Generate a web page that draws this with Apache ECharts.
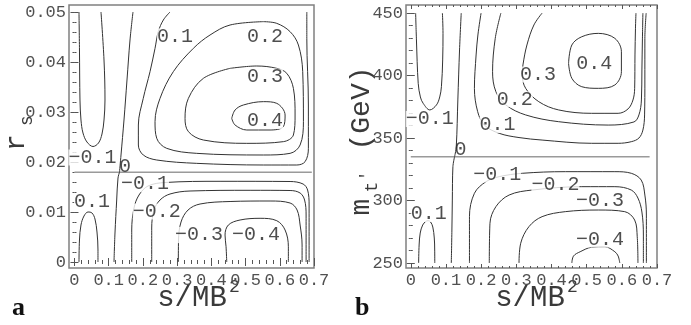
<!DOCTYPE html>
<html><head><meta charset="utf-8">
<script src="https://cdn.jsdelivr.net/npm/echarts@6/dist/echarts.min.js"></script>
<style>html,body{margin:0;padding:0;background:#fff}#c{width:691px;height:325px}</style>
</head><body><div id="c"></div>
<script>
// ---------- tick labels ----------
const xTicks = [0, 0.1, 0.2, 0.3, 0.4, 0.5, 0.6, 0.7];
const aYTicks = [0, 0.01, 0.02, 0.03, 0.04, 0.05];
const bYTicks = [250, 300, 350, 400, 450];

// ---------- panel a contours (x = s/MB^2, y = r_s) ----------
const aZeroH = [[0, 0.01796], [0.6936, 0.01796]];
const aZeroV1 = [[0.171,0.05],[0.1623,0.0444],[0.1535,0.0364],[0.1447,0.0284],[0.136,0.0214],[0.1316,0.01796]];
const aZeroV2 = [[0.1316,0.01796],[0.1272,0.0168],[0.1234,0.0124],[0.1184,0.0058],[0.1155,0]];
const aU = [[0.0132,0.05],[0.0146,0.0424],[0.0161,0.0324],[0.019,0.0284],[0.0249,0.0258],[0.0365,0.024],[0.0541,0.0231],[0.0702,0.0238],[0.0804,0.0256],[0.0863,0.0284],[0.0892,0.0324],[0.0863,0.0404],[0.0775,0.05]];
const aP01 = [[0.2792,0.05],[0.2597,0.0484],[0.245,0.04607],[0.2354,0.04273],[0.2208,0.03807],[0.201,0.03273],[0.1867,0.0274],[0.1867,0.0234],[0.201,0.0214],[0.2404,0.0204],[0.3573,0.01973],[0.552,0.0194],[0.6497,0.0194],[0.674,0.02007],[0.6836,0.02273],[0.6836,0.0314],[0.679,0.04473],[0.679,0.05]];
const aP02 = [[0.552,0.04807],[0.4547,0.0474],[0.3962,0.0454],[0.3474,0.04273],[0.2889,0.03807],[0.25,0.03273],[0.2354,0.02807],[0.2404,0.02473],[0.2696,0.02273],[0.3573,0.02173],[0.552,0.0214],[0.6301,0.02173],[0.6594,0.0234],[0.6691,0.02807],[0.667,0.03807],[0.6544,0.0434],[0.6301,0.04607],[0.5912,0.04773],[0.552,0.04807]];
const aP03 = [[0.4547,0.03873],[0.3766,0.03673],[0.3329,0.03273],[0.3231,0.02873],[0.3329,0.02607],[0.3766,0.0244],[0.5035,0.02373],[0.6105,0.02407],[0.6398,0.0254],[0.6447,0.0294],[0.6398,0.03473],[0.6205,0.03773],[0.5912,0.03873],[0.5327,0.0392],[0.4547,0.03873]];
const aP04 = [[0.4596,0.02873],[0.4693,0.0304],[0.4936,0.0314],[0.552,0.03207],[0.5912,0.03173],[0.6155,0.0294],[0.6105,0.02707],[0.5716,0.0264],[0.5035,0.0264],[0.4693,0.0274],[0.4596,0.02873]];
const aHump = [[0.0132,0],[0.0146,0.0044],[0.019,0.0074],[0.0278,0.0092],[0.0395,0.01],[0.0512,0.0098],[0.0599,0.0086],[0.0658,0.006],[0.0687,0.0024],[0.0687,0]];
const aN01 = [[0.1673,0],[0.1673,0.0064],[0.174,0.0108],[0.1886,0.0134],[0.2149,0.0152],[0.2646,0.0159],[0.4254,0.01614],[0.6301,0.0161],[0.6681,0.0156],[0.6813,0.0144],[0.6857,0.0114],[0.6857,0]];
const aN02 = [[0.2257,0],[0.2257,0.0068],[0.2325,0.0104],[0.25,0.0124],[0.2792,0.0136],[0.3377,0.0142],[0.5132,0.01434],[0.6301,0.0143],[0.6594,0.0138],[0.6725,0.0124],[0.6769,0.0094],[0.6769,0]];
const aN03 = [[0.3035,0],[0.3041,0.0044],[0.3114,0.008],[0.3319,0.0104],[0.367,0.0116],[0.4547,0.0121],[0.5716,0.0122],[0.6301,0.0118],[0.6506,0.0104],[0.6594,0.0074],[0.6652,0.0034],[0.6652,0]];
const aN04 = [[0.445,0],[0.443,0.00306],[0.44,0.0054],[0.4497,0.0074],[0.4839,0.0084],[0.5424,0.00874],[0.5912,0.00826],[0.6155,0.0064],[0.6251,0.00306],[0.6251,0]];
const aLabText = ['0.1','0.2','0.3','0.4','\u22120.1','0','\u22120.1','0.1','\u22120.2','\u22120.3','\u22120.4'];
const aLabX = [0.294,0.557,0.557,0.557,0.0526,0.1477,0.2061,0.0512,0.2404,0.364,0.5307];
const aLabY = [0.0451,0.0451,0.0371,0.0282,0.0209,0.019,0.0156,0.0121,0.0101,0.0054,0.0054];

// ---------- panel b contours (x = s/MB^2, y = m_t' GeV) ----------
const bZeroH = [[0, 335.1], [0.679, 335.1]];
const bZeroV1 = [[0.1434,450],[0.1386,420.5],[0.1338,380.5],[0.1293,343.1],[0.1245,335.1]];
const bZeroV2 = [[0.1245,335.1],[0.1198,327.1],[0.1181,300.4],[0.1169,276.4],[0.1152,250]];
const bU = [[0.0138,450],[0.0161,428.5],[0.0211,393.8],[0.0273,382.9],[0.0352,377.8],[0.0541,372.5],[0.073,376.5],[0.0823,382.9],[0.0871,391.1],[0.0907,412.5],[0.0916,433.8],[0.0899,450]];
const bP01 = [[0.1998,450],[0.1908,432.5],[0.1857,416.5],[0.1809,389.8],[0.1902,371.1],[0.2091,360.4],[0.2513,353.8],[0.3077,350.4],[0.3733,348.4],[0.5142,345.8],[0.5895,345.8],[0.6269,347.1],[0.6486,350.0],[0.6599,356.4],[0.6647,368.5],[0.6655,396.5],[0.6655,429.8],[0.6692,450]];
const bP02 = [[0.2561,450],[0.2401,429.8],[0.2325,403.1],[0.242,387.1],[0.2702,376.5],[0.3266,368.5],[0.4204,363.1],[0.5613,360.4],[0.6345,362.9],[0.6486,368.5],[0.6557,380.5],[0.6571,404.5],[0.6585,428.5],[0.6599,450]];
const bP03 = [[0.3733,450],[0.35,440.5],[0.3302,424.5],[0.3189,408.5],[0.317,400.5],[0.3266,389.8],[0.364,379.1],[0.4204,372.5],[0.5142,369.8],[0.5895,369.8],[0.6176,373.3],[0.6317,380.5],[0.6365,389.8],[0.6374,416.5],[0.6388,437.9],[0.6402,450]];
const bP04 = [[0.4486,409.8],[0.4579,424.5],[0.4861,431.1],[0.5331,433.8],[0.5802,429.8],[0.5988,419.1],[0.5988,403.1],[0.5802,392.5],[0.5331,389.8],[0.4861,391.1],[0.4579,397.8],[0.4486,409.8]];
const bHump = [[0.0223,250],[0.0237,264.4],[0.0268,274.0],[0.0338,280.4],[0.0423,283.2],[0.0493,283.9],[0.0564,282.8],[0.0626,278.8],[0.0668,270.0],[0.068,260.4],[0.0682,250]];
const bN01 = [[0.1668,250],[0.1668,287.1],[0.1809,305.8],[0.2139,315.1],[0.2513,319.1],[0.317,321.8],[0.4393,323.1],[0.5802,323.1],[0.6269,321.8],[0.6551,316.4],[0.6655,304.4],[0.6698,288.4],[0.6698,250]];
const bN02 = [[0.2232,250],[0.2251,281.8],[0.242,295.1],[0.2795,304.4],[0.3452,308.4],[0.4861,311.1],[0.5802,311.1],[0.6269,308.4],[0.6458,302.0],[0.6571,290.8],[0.6613,272.4],[0.6613,250]];
const bN03 = [[0.3077,250],[0.3125,265.8],[0.3359,279.1],[0.3733,287.1],[0.4393,291.1],[0.5331,292.4],[0.6083,291.1],[0.6365,284.4],[0.6438,271.0],[0.6458,250]];
const bN04 = [[0.4579,250],[0.4627,255.6],[0.4815,259.0],[0.5142,262.6],[0.552,263.0],[0.5802,259.0],[0.5895,255.6],[0.5942,250]];
const bLabText = ['\u22120.1','0','0.1','0.2','0.3','0.4','\u22120.1','\u22120.2','\u22120.3','\u22120.4','0.1'];
const bLabX = [0.0541,0.1415,0.2465,0.2959,0.3618,0.5213,0.2457,0.4111,0.5379,0.5379,0.0513];
const bLabY = [365.3,340.4,360.4,381.1,400.8,409.8,320.8,312.4,299.8,268.8,289.2];

// ---------- build ----------
const MONO = 'Liberation Mono';
const tickColor = '#555';
function range(a, b, step) { const r = []; const n = Math.round((b - a) / step); for (let i = 0; i <= n; i++) r.push(+(a + i * step).toFixed(6)); return r; }

function makeAxis(kind, g, min, max, pos, ticks, len, labels, fmt) {
  return {
    type: 'value', gridIndex: g, min: min, max: max, position: pos,
    axisLine: { show: false }, splitLine: { show: false },
    axisTick: { show: true, inside: true, length: len, customValues: ticks, lineStyle: { color: tickColor, width: 1 } },
    axisLabel: labels ? { show: true, customValues: ticks, formatter: fmt, fontFamily: MONO, fontSize: 17, color: '#505050', margin: kind === 'x' ? 4 : 3, showMaxLabel: true, showMinLabel: true } : { show: false }
  };
}
const fmtX = v => (v === 0 ? '0' : v.toFixed(1));
const fmtAY = v => (v === 0 ? '0' : v.toFixed(2));
const fmtBY = v => String(Math.round(v));

const xAxes = [], yAxes = [];
const panels = [
  { g: 0, xmin: -0.016, xmax: 0.7, ymin: -0.0012, ymax: 0.0514, yTicks: aYTicks, yMinor: range(0, 0.05, 0.002), yFmt: fmtAY },
  { g: 1, xmin: -0.0136, xmax: 0.7, ymin: 246, ymax: 456.5, yTicks: bYTicks, yMinor: range(250, 450, 10), yFmt: fmtBY }
];
const xMinor = range(0, 0.68, 0.02);
panels.forEach(p => {
  p.xi = xAxes.length; p.yi = yAxes.length;
  xAxes.push(makeAxis('x', p.g, p.xmin, p.xmax, 'bottom', xTicks, 4, true, fmtX));
  xAxes.push(makeAxis('x', p.g, p.xmin, p.xmax, 'bottom', xMinor, 2, false));
  xAxes.push(makeAxis('x', p.g, p.xmin, p.xmax, 'top', xTicks, 4, false));
  xAxes.push(makeAxis('x', p.g, p.xmin, p.xmax, 'top', xMinor, 2, false));
  yAxes.push(makeAxis('y', p.g, p.ymin, p.ymax, 'left', p.yTicks, 4, true, p.yFmt));
  yAxes.push(makeAxis('y', p.g, p.ymin, p.ymax, 'left', p.yMinor, 2, false));
  yAxes.push(makeAxis('y', p.g, p.ymin, p.ymax, 'right', p.yTicks, 4, false));
  yAxes.push(makeAxis('y', p.g, p.ymin, p.ymax, 'right', p.yMinor, 2, false));
});

const series = [];
function addLine(p, data, color, width) {
  series.push({ type: 'line', xAxisIndex: p.xi, yAxisIndex: p.yi, data: data, showSymbol: false, smooth: 0.35,
    lineStyle: { color: color || '#333', width: width || 1 }, silent: true, animation: false, z: 2 });
}
function addLabels(p, xs, ys, texts) {
  series.push({ type: 'scatter', xAxisIndex: p.xi, yAxisIndex: p.yi, symbolSize: 1, itemStyle: { color: 'rgba(0,0,0,0)' },
    data: xs.map((x, i) => ({ value: [x, ys[i]], name: texts[i],
      label: texts[i] === '0' ? { backgroundColor: 'transparent' } : {} })),
    label: { show: true, position: 'inside', formatter: q => q.name, fontFamily: MONO, fontSize: 20, color: '#222',
      backgroundColor: '#fff', padding: [0, 0], lineHeight: 16 },
    silent: true, animation: false, z: 5 });
}
const pa = panels[0], pb = panels[1];
addLine(pa, aZeroH, '#9a9a9a', 1.5);
[aZeroV1, aZeroV2, aU, aP01, aP02, aP03, aP04, aHump, aN01, aN02, aN03, aN04].forEach(d => addLine(pa, d));
addLine(pb, bZeroH, '#9a9a9a', 1.5);
[bZeroV1, bZeroV2, bU, bP01, bP02, bP03, bP04, bHump, bN01, bN02, bN03, bN04].forEach(d => addLine(pb, d));
addLabels(pa, aLabX, aLabY, aLabText);
addLabels(pb, bLabX, bLabY, bLabText);

function txt(text, x, y, size, opts) {
  return Object.assign({ type: 'text', x: x, y: y, silent: true,
    style: Object.assign({ text: text, fontFamily: MONO, fontSize: size, fill: '#3a3a3a', align: 'center', verticalAlign: 'middle' }, (opts && opts.style) || {}) },
    (opts && opts.el) || {});
}
const graphic = [
  txt('s/MB', 192, 298, 29),
  txt('2', 229, 287, 18, { style: { align: 'left' } }),
  txt('s/MB', 530, 298, 29),
  txt('2', 567, 287, 18, { style: { align: 'left' } }),
  txt('r', 17, 142.5, 28, { el: { rotation: Math.PI / 2 } }),
  txt('s', 27, 120.5, 18, { el: { rotation: Math.PI / 2 } }),
  txt('m', 362, 207, 28, { el: { rotation: Math.PI / 2 } }),
  txt('t', 372, 187, 18, { el: { rotation: Math.PI / 2 } }),
  txt('\u2032', 367, 176, 16, { el: { rotation: Math.PI / 2 } }),
  txt('(GeV)', 362, 108.5, 28, { el: { rotation: Math.PI / 2 } }),
  txt('a', 12, 321, 26, { style: { align: 'left', verticalAlign: 'bottom', fontFamily: 'Liberation Serif', fontWeight: 'bold', fill: '#111' } }),
  txt('b', 355, 321, 26, { style: { align: 'left', verticalAlign: 'bottom', fontFamily: 'Liberation Serif', fontWeight: 'bold', fill: '#111' } })
];

const chart = echarts.init(document.getElementById('c'), null, { renderer: 'canvas' });
chart.setOption({
  animation: false,
  backgroundColor: '#fff',
  grid: [
    { left: 69, top: 5, width: 245, height: 263, show: true, borderColor: '#808080', borderWidth: 1.5, backgroundColor: 'transparent' },
    { left: 406, top: 5, width: 251, height: 263, show: true, borderColor: '#808080', borderWidth: 1.5, backgroundColor: 'transparent' }
  ],
  xAxis: xAxes, yAxis: yAxes, series: series, graphic: graphic
});
</script></body></html>
